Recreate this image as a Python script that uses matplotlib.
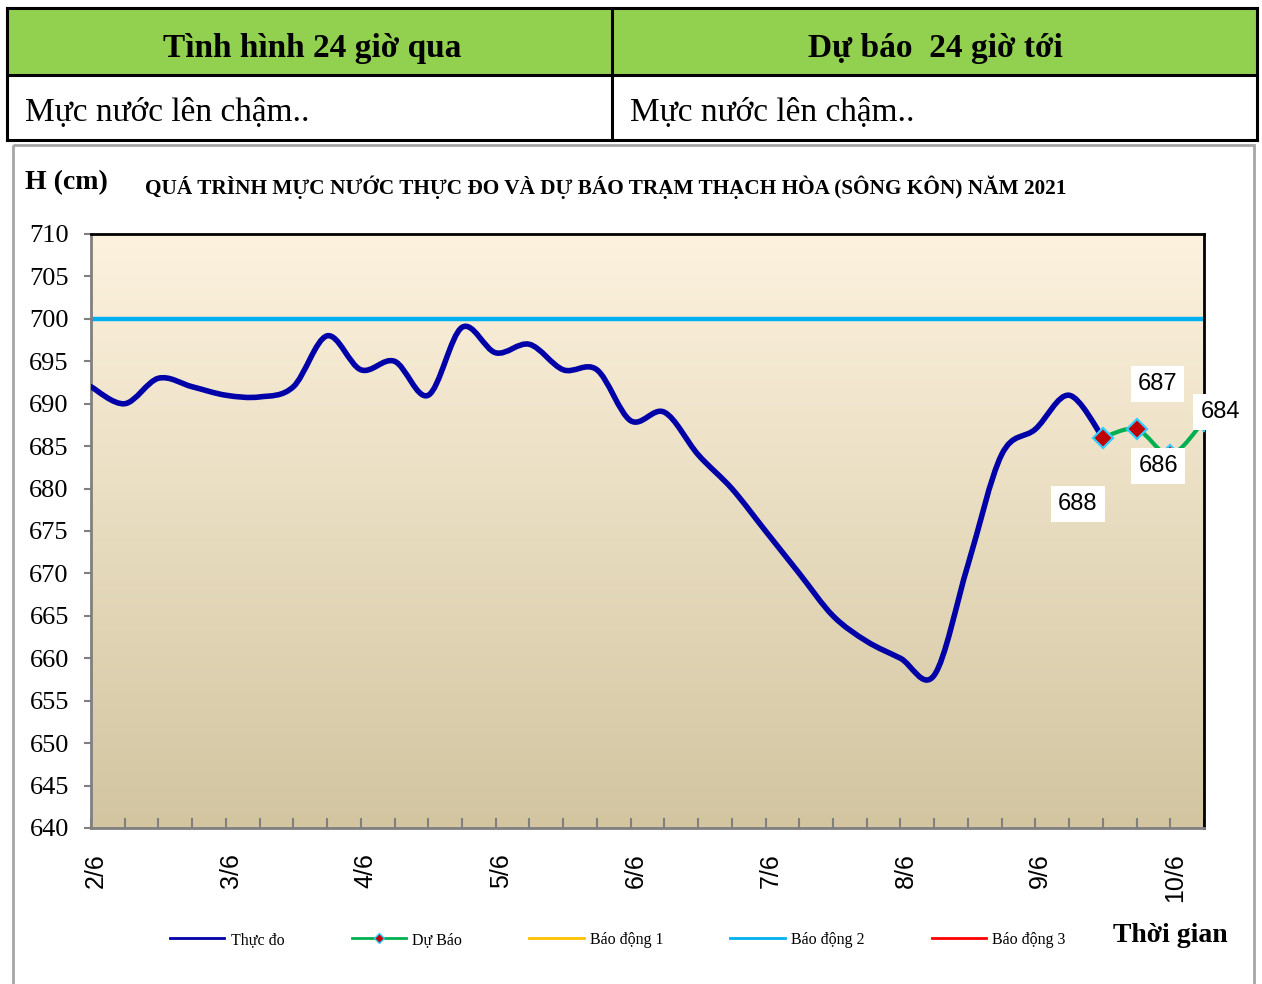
import numpy as np
import matplotlib.pyplot as plt
from matplotlib.path import Path
from matplotlib.patches import PathPatch, Rectangle
from matplotlib.lines import Line2D
from matplotlib.transforms import ScaledTranslation

# data: water level every 6 hours from 2/6 to 10/6
day_labels = ["2/6", "3/6", "4/6", "5/6", "6/6", "7/6", "8/6", "9/6", "10/6"]
observed = [692, 690, 693, 692, 691, 690.8, 692, 698, 694, 695, 691, 699,
            696, 697, 694, 694, 688, 689, 684, 680, 675, 670, 665, 662,
            660, 658, 671, 684, 687, 691, 686]
forecast_start = 30
forecast = [686, 687, 684, 688]
forecast_labels = ["688", "687", "686", "684"]
alarm_2 = 700

SERIF = "Liberation Serif"
SANS = "Liberation Sans"


def smooth_path(xs, ys):
    # Catmull-Rom style bezier through the points (like Excel smoothed lines)
    pts = np.column_stack([xs, ys]).astype(float)
    n = len(pts)
    verts = [pts[0]]
    codes = [Path.MOVETO]
    for i in range(n - 1):
        p0 = pts[i - 1] if i > 0 else pts[i]
        p1 = pts[i]
        p2 = pts[i + 1]
        p3 = pts[i + 2] if i + 2 < n else pts[i + 1]
        c1 = p1 + (p2 - p0) / 6.0
        c2 = p2 - (p3 - p1) / 6.0
        verts += [c1, c2, p2]
        codes += [Path.CURVE4] * 3
    return Path(verts, codes)


W, H = 1262, 984
fig = plt.figure(figsize=(W / 100, H / 100), dpi=100)

# page layer in pixel coordinates
bg = fig.add_axes([0, 0, 1, 1])
bg.set_xlim(0, W)
bg.set_ylim(H, 0)
bg.axis("off")

# table on top
bg.add_patch(Rectangle((7, 8), 1250, 67, facecolor="#92D050", edgecolor="none"))
for y in (8, 75, 140):
    bg.plot([7, 1257], [y, y], color="black", lw=2.2)
for x in (7, 612, 1257):
    bg.plot([x, x], [8, 140], color="black", lw=2.2)
bg.text(312, 48, "Tình hình 24 giờ qua", family=SERIF, fontweight="bold",
        fontsize=24, ha="center", va="center")
bg.text(935, 48, "Dự báo  24 giờ tới", family=SERIF, fontweight="bold",
        fontsize=24, ha="center", va="center")
bg.text(25, 113, "Mực nước lên chậm..", family=SERIF, fontsize=24,
        ha="left", va="center")
bg.text(630, 113, "Mực nước lên chậm..", family=SERIF, fontsize=24,
        ha="left", va="center")

# chart frame
bg.add_patch(Rectangle((13, 145), 1241, 860, facecolor="none",
                       edgecolor="#A6A6A6", lw=2))
bg.text(25, 183, "H (cm)", family=SERIF, fontweight="bold", fontsize=20,
        ha="left", va="center")
bg.text(145, 187, "QUÁ TRÌNH MỰC NƯỚC THỰC ĐO VÀ DỰ BÁO TRẠM THẠCH HÒA (SÔNG KÔN) NĂM 2021",
        family=SERIF, fontweight="bold", fontsize=15.3, ha="left", va="center")
bg.text(1170, 936, "Thời gian", family=SERIF, fontweight="bold", fontsize=20,
        ha="center", va="center")

# plot area
ax = fig.add_axes([91 / W, 1 - 828 / H, (1204 - 91) / W, (828 - 234) / H])
ax.set_zorder(2)
n_pts = forecast_start + len(forecast)
idx = np.arange(n_pts)
ax.set_xlim(0, n_pts - 1)
ax.set_ylim(640, 710)

grad = np.linspace(0, 1, 256)[:, None]
top = np.array([253, 242, 222]) / 255
bot = np.array([210, 197, 160]) / 255
img = top[None, None, :] * (1 - grad[:, :, None]) + bot[None, None, :] * grad[:, :, None]
ax.imshow(img, extent=[0, 1, 0, 1], transform=ax.transAxes, aspect="auto", zorder=0)

ax.axhline(alarm_2, color="#00B0F0", lw=3.2, zorder=2)

obs_x = idx[:len(observed)]
ax.add_patch(PathPatch(smooth_path(obs_x, observed), facecolor="none",
                       edgecolor="#0000A8", lw=4.0, capstyle="round",
                       joinstyle="round", zorder=3))
fc_x = idx[forecast_start:]
ax.add_patch(PathPatch(smooth_path(fc_x, forecast), facecolor="none",
                       edgecolor="#00B050", lw=3.0, capstyle="round",
                       joinstyle="round", zorder=4))
ax.plot(fc_x, forecast, ls="none", marker="D", ms=10, mfc="#C00000",
        mec="#33CCFF", mew=1.6, zorder=5)

label_offsets = [(-25, -66), (21, 45), (-12, -11), (16, 9)]
for xv, yv, txt, off in zip(fc_x, forecast, forecast_labels, label_offsets):
    ax.annotate(txt, (xv, yv), xytext=off, textcoords="offset pixels",
                ha="center", va="center", family=SANS, fontsize=17,
                bbox=dict(boxstyle="square,pad=0.3", fc="white", ec="none"),
                annotation_clip=False, zorder=6)

ax.set_yticks(np.arange(640, 711, 5))
ax.set_yticklabels([str(v) for v in range(640, 711, 5)], family=SERIF, fontsize=19)
ax.set_xticks(idx[::4])
ax.set_xticklabels(day_labels, family=SANS, fontsize=18, rotation=90)
ax.set_xticks(idx, minor=True)
ax.tick_params(axis="y", direction="out", length=5, width=1.5, color="#808080", pad=11)
ax.tick_params(axis="x", which="both", direction="in", length=7, width=1.5,
               color="#808080", pad=18)
shift = ScaledTranslation(5 / 100, 0, fig.dpi_scale_trans)
for lbl in ax.get_xticklabels():
    lbl.set_transform(lbl.get_transform() + shift)
for side in ("left", "bottom"):
    ax.spines[side].set_color("#808080")
    ax.spines[side].set_linewidth(2)
for side in ("top", "right"):
    ax.spines[side].set_color("black")
    ax.spines[side].set_linewidth(2)

handles = [
    Line2D([], [], color="#0000A8", lw=2),
    Line2D([], [], color="#00B050", lw=2, marker="D", ms=5, mfc="#C00000", mec="#33CCFF"),
    Line2D([], [], color="#FFC000", lw=2),
    Line2D([], [], color="#00B0F0", lw=2),
    Line2D([], [], color="#FF0000", lw=2),
]
names = ["Thực đo", "Dự Báo", "Báo động 1", "Báo động 2", "Báo động 3"]
fig.legend(handles, names, loc="center", bbox_to_anchor=(618 / W, 1 - 940 / H),
           ncol=5, frameon=False, prop={"family": SERIF, "size": 11.5},
           handlelength=3.4, handletextpad=0.4, columnspacing=4.2)

fig.savefig("out.png", dpi=100)
